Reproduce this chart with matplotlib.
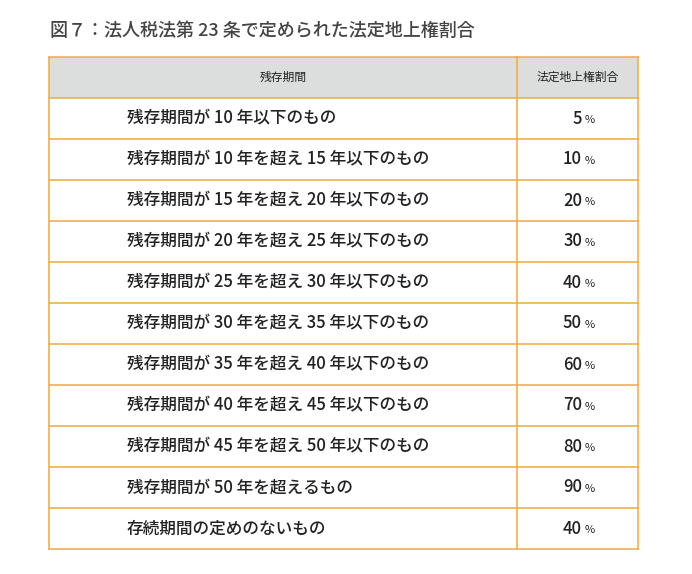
import matplotlib
matplotlib.use("Agg")
import matplotlib.pyplot as plt
from matplotlib.patches import Rectangle

plt.rcParams["font.family"] = "Noto Sans CJK JP"

title = "図７：法人税法第 23 条で定められた法定地上権割合"
header = ["残存期間", "法定地上権割合"]
periods = [
    "残存期間が 10 年以下のもの",
    "残存期間が 10 年を超え 15 年以下のもの",
    "残存期間が 15 年を超え 20 年以下のもの",
    "残存期間が 20 年を超え 25 年以下のもの",
    "残存期間が 25 年を超え 30 年以下のもの",
    "残存期間が 30 年を超え 35 年以下のもの",
    "残存期間が 35 年を超え 40 年以下のもの",
    "残存期間が 40 年を超え 45 年以下のもの",
    "残存期間が 45 年を超え 50 年以下のもの",
    "残存期間が 50 年を超えるもの",
    "存続期間の定めのないもの",
]
rates = [5, 10, 20, 30, 40, 50, 60, 70, 80, 90, 40]

W, H = 692, 574
fig = plt.figure(figsize=(W / 100, H / 100), dpi=100)
ax = fig.add_axes([0, 0, 1, 1])
ax.set_xlim(0, W)
ax.set_ylim(H, 0)
ax.axis("off")

border = "#f0b04a"
x0, x1, xs = 49, 638, 517
y0, rh = 57, 41
n = len(periods) + 1

ax.text(50, 31, title, fontsize=13, color="#444444", va="center", ha="left", weight="medium")

ax.add_patch(Rectangle((x0, y0), x1 - x0, rh, facecolor="#dcdddd", edgecolor="none"))
for i in range(n + 1):
    ax.plot([x0, x1], [y0 + i * rh] * 2, color=border, lw=1.2)
for x in (x0, xs, x1):
    ax.plot([x, x], [y0, y0 + n * rh], color=border, lw=1.2)

ax.text((x0 + xs) / 2, y0 + rh / 2, header[0], fontsize=8.5, ha="center", va="center", color="#222222")
ax.text((xs + x1) / 2, y0 + rh / 2, header[1], fontsize=8.5, ha="center", va="center", color="#222222")

for i, (p, r) in enumerate(zip(periods, rates)):
    yc = y0 + (i + 1.5) * rh
    ax.text(127, yc, p, fontsize=12, ha="left", va="center", color="#222222", weight="medium")
    ax.text(582, yc, str(r), fontsize=12, ha="right", va="center", color="#222222", weight="medium")
    ax.text(585, yc + 1.5, "%", fontsize=8, ha="left", va="center", color="#222222")

fig.savefig("out.png", dpi=100, facecolor="white")
